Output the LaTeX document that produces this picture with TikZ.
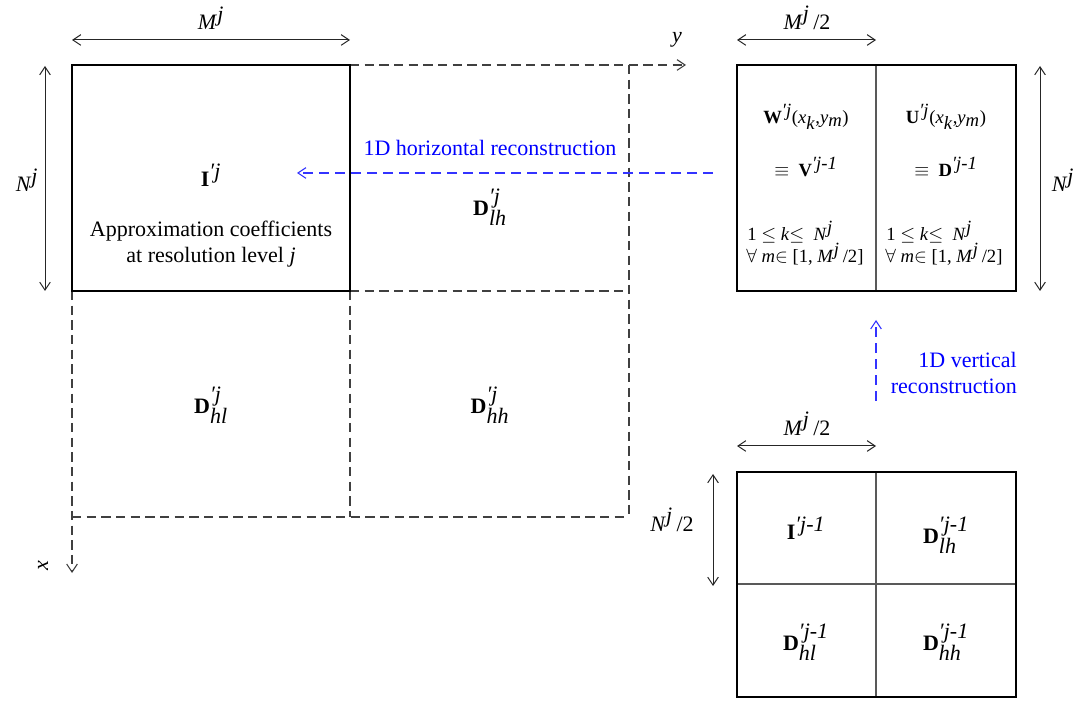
\documentclass[tikz,border=0pt]{standalone}
\usepackage{fontspec}
\setmainfont{Liberation Serif}
\usetikzlibrary{arrows.meta}
\begin{document}
\begin{tikzpicture}[x=0.75pt,y=-0.75pt,
  >={Straight Barb[length=6pt,width=8pt]},
  every node/.style={inner sep=0pt,font=\fontsize{16.5}{19}\selectfont},
  small/.style={font=\fontsize{14}{17}\selectfont},
  dim/.style={<->,line width=0.75pt,draw=black!85},
  thick box/.style={draw=black,line width=1.6pt},
  thin box/.style={draw=black,line width=1.1pt},
  divider/.style={draw=black!65,line width=0.9pt},
  dash line/.style={draw=black!75,line width=0.8pt,dash pattern=on 7pt off 4pt},
  blue arrow/.style={->,draw=blue!80,line width=0.8pt,dash pattern=on 7.5pt off 4.5pt},
  bluetext/.style={text=blue}]
\useasboundingbox (0,0) rectangle (1083,702);

% ---- left image ----
\coordinate (A) at (72,65);
\coordinate (B) at (350,65);
\coordinate (C) at (629,65);
\coordinate (Yend) at (686,65);
\coordinate (D) at (72,291);
\coordinate (E) at (350,291);
\coordinate (F) at (629,291);
\coordinate (G) at (72,517);
\coordinate (H) at (350,517);
\coordinate (K) at (629,517);
\coordinate (Xend) at (72,573);

\draw[dash line,->] (B) -- (Yend);
\draw[dash line] (C) -- (K);
\draw[dash line] (E) -- (F);
\draw[dash line] (G) -- (K);
\draw[dash line] (E) -- (H);
\draw[dash line,->] (D) -- (Xend);
\draw[thick box] (A) rectangle (E);

\node (ylab) at (677,40) {\textit{y}};
\node[rotate=90] (xlab) at (43,566) {\textit{x}};

\coordinate (mL) at (72,40);
\coordinate (mR) at (350,40);
\draw[dim] (mL) -- (mR);
\node (Mj) at (211,18) {\textit{M}$^{\textit{j}}$};

\coordinate (nT) at (45,66);
\coordinate (nB) at (45,291);
\draw[dim] (nT) -- (nB);
\node (Nj) at (27,180) {\textit{N}$^{\textit{j}}$};

\node (Ij) at (211,175) {\textbf{I}$^{\textit{′j}}$};
\node[align=center] (approx) at (211,244) {Approximation coefficients\\[1pt]at resolution level \textit{j}};
\node (Dlh) at (490,207) {\textbf{D}$^{\textit{′j}}_{\textit{lh}}$};
\node (Dhl) at (211,405) {\textbf{D}$^{\textit{′j}}_{\textit{hl}}$};
\node (Dhh) at (490,405) {\textbf{D}$^{\textit{′j}}_{\textit{hh}}$};

% ---- horizontal reconstruction arrow ----
\coordinate (hS) at (713,173);
\coordinate (hE) at (297,173);
\draw[blue arrow] (hS) -- (hE);
\node[bluetext] (hlab) at (490,148) {1D horizontal reconstruction};

% ---- top right box ----
\coordinate (R1) at (737,65);
\coordinate (R2) at (1016,291);
\coordinate (R1m) at (876,65);
\coordinate (R2m) at (876,291);
\draw[divider] (R1m) -- (R2m);
\draw[thin box] (R1) rectangle (R2);

\coordinate (tmL) at (737,40);
\coordinate (tmR) at (876,40);
\draw[dim] (tmL) -- (tmR);
\node (Mj2a) at (807,18) {\textit{M}$^{\textit{j}}$\,/2};

\coordinate (rnT) at (1040,66);
\coordinate (rnB) at (1040,291);
\draw[dim] (rnT) -- (rnB);
\node (Nj2) at (1063,180) {\textit{N}$^{\textit{j}}$};

\node[small] (W) at (806,117) {\textbf{W}$^{\textit{′j}}$(\textit{x}$_{\textit{k}}$,\textit{y}$_{\textit{m}}$)};
\node[small] (V) at (806,167) {$\equiv$\ \ \textbf{V}$^{\textit{′j-1}}$};
\node[small,anchor=west] (k1) at (747,232) {1 $\leq$ \textit{k}$\leq$\ \ \textit{N}$^{\textit{j}}$};
\node[small,anchor=west] (m1) at (746,254) {$\forall$ \textit{m}$\in$ [1, \textit{M}$^{\textit{j}}$\,/2]};

\node[small] (U) at (946,117) {\textbf{U}$^{\textit{′j}}$(\textit{x}$_{\textit{k}}$,\textit{y}$_{\textit{m}}$)};
\node[small] (Dd) at (946,167) {$\equiv$\ \ \textbf{D}$^{\textit{′j-1}}$};
\node[small,anchor=west] (k2) at (886,232) {1 $\leq$ \textit{k}$\leq$\ \ \textit{N}$^{\textit{j}}$};
\node[small,anchor=west] (m2) at (885,254) {$\forall$ \textit{m}$\in$ [1, \textit{M}$^{\textit{j}}$\,/2]};

% ---- vertical reconstruction arrow ----
\coordinate (vS) at (876,401);
\coordinate (vE) at (876,320);
\draw[blue arrow] (vS) -- (vE);
\node[bluetext,align=right,anchor=east] (vlab) at (1017,373) {1D vertical\\[1pt]reconstruction};

% ---- bottom right box ----
\coordinate (S1) at (737,472);
\coordinate (S2) at (1016,697);
\coordinate (Sv1) at (876,472);
\coordinate (Sv2) at (876,697);
\coordinate (Sh1) at (737,584);
\coordinate (Sh2) at (1016,584);
\draw[divider] (Sv1) -- (Sv2);
\draw[divider] (Sh1) -- (Sh2);
\draw[thin box] (S1) rectangle (S2);

\coordinate (bmL) at (737,446);
\coordinate (bmR) at (876,446);
\draw[dim] (bmL) -- (bmR);
\node (Mj2b) at (807,424) {\textit{M}$^{\textit{j}}$\,/2};

\coordinate (bnT) at (713,474);
\coordinate (bnB) at (713,586);
\draw[dim] (bnT) -- (bnB);
\node (Nj2b) at (672,520) {\textit{N}$^{\textit{j}}$\,/2};

\node (I1) at (806,528) {\textbf{I}$^{\textit{′j-1}}$};
\node (D1lh) at (946,535) {\textbf{D}$^{\textit{′j-1}}_{\textit{lh}}$};
\node (D1hl) at (806,642) {\textbf{D}$^{\textit{′j-1}}_{\textit{hl}}$};
\node (D1hh) at (946,642) {\textbf{D}$^{\textit{′j-1}}_{\textit{hh}}$};
\end{tikzpicture}
\end{document}
